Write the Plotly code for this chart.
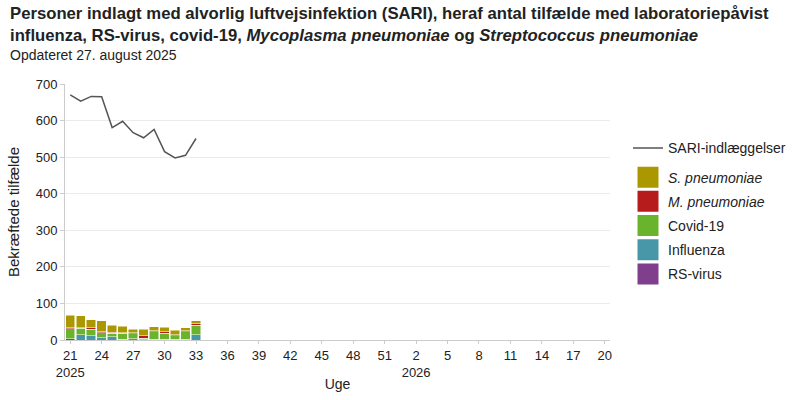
import plotly.graph_objects as go

# uger: 2025-U21 .. 2026-U20
weeks = [f"2025-U{w}" for w in range(21, 53)] + [f"2026-U{w}" for w in range(1, 21)]

# data for de uger der er rapporteret (2025-U21 .. 2025-U33)
data_weeks = weeks[:13]
sari = [670, 653, 666, 665, 581, 598, 567, 553, 576, 515, 498, 505, 551]
rs_virus = [3, 0, 0, 0, 0, 0, 0, 0, 0, 0, 0, 0, 0]
influenza = [1, 15, 12, 6, 9, 2, 3, 1, 2, 2, 2, 2, 14]
covid = [27, 17, 18, 14, 9, 17, 14, 4, 20, 17, 10, 20, 27]
m_pneu = [3, 1, 4, 3, 3, 1, 3, 7, 3, 3, 3, 3, 4]
s_pneu = [34, 33, 21, 29, 20, 18, 10, 18, 11, 13, 12, 8, 7]

tick_weeks = weeks[::3]
tick_text = []
for w in tick_weeks:
    year, uge = w.split("-U")
    if w in ("2025-U21", "2026-U2"):
        tick_text.append(f"{uge}<br>{year}")
    else:
        tick_text.append(uge)

fig = go.Figure()

fig.add_trace(go.Scatter(x=data_weeks, y=sari, mode="lines", name="SARI-indlæggelser",
                         line=dict(color="#555555", width=1.5), legend="legend2"))

bars = [
    ("RS-virus", rs_virus, "#7f3f8c", 6),
    ("Influenza", influenza, "#4897a8", 5),
    ("Covid-19", covid, "#6ab42d", 4),
    ("<i>M. pneumoniae</i>", m_pneu, "#b71c1c", 3),
    ("<i>S. pneumoniae</i>", s_pneu, "#ab9800", 2),
]
for name, vals, col, rank in bars:
    fig.add_trace(go.Bar(x=data_weeks, y=vals, name=name, marker_color=col,
                         marker_line=dict(color="white", width=0.5), showlegend=False))
    # legend proxy with a larger square swatch
    fig.add_trace(go.Scatter(x=[None], y=[None], mode="markers", name=name, legendrank=rank,
                             legendgroup=f"g{rank}",
                             marker=dict(symbol="square", size=16, color=col,
                                         line=dict(color=col, width=5))))

fig.update_layout(
    width=800, height=400,
    barmode="stack", bargap=0.1,
    plot_bgcolor="white", paper_bgcolor="white",
    font=dict(family="Liberation Sans, Arial, sans-serif", size=13, color="#222"),
    margin=dict(l=65, r=190, t=84, b=60),
    annotations=[
        dict(text="<b>Personer indlagt med alvorlig luftvejsinfektion (SARI), heraf antal tilfælde med laboratoriepåvist<br>"
                  "influenza, RS-virus, covid-19, <i>Mycoplasma pneumoniae</i> og <i>Streptococcus pneumoniae</i></b>",
             xref="paper", yref="paper", x=-0.105, y=1.32, xanchor="left", yanchor="top",
             align="left", showarrow=False, font=dict(size=16.7, color="#222")),
        dict(text="Opdateret 27. august 2025", xref="paper", yref="paper",
             x=-0.105, y=1.075, xanchor="left", yanchor="bottom", showarrow=False,
             font=dict(size=14, color="#222")),
    ],
    legend=dict(xref="container", x=0.785, xanchor="left", y=0.697, yanchor="top",
                font=dict(size=14), bgcolor="rgba(0,0,0,0)", tracegroupgap=3,
                traceorder="grouped"),
    legend2=dict(xref="container", x=0.785, xanchor="left", y=0.811, yanchor="top",
                 font=dict(size=14), bgcolor="rgba(0,0,0,0)"),
    xaxis=dict(type="category", categoryarray=weeks, categoryorder="array",
               range=[-0.5, len(weeks) - 0.5], automargin=False,
               tickvals=tick_weeks, ticktext=tick_text, tickangle=0, tickfont=dict(size=13),
               showline=True, linecolor="#cccccc", ticks="outside", tickcolor="#cccccc", ticklen=3,
               title=dict(text="Uge", font=dict(size=14), standoff=0), showgrid=False),
    yaxis=dict(range=[0, 700], dtick=100, showgrid=True, gridcolor="#ebebeb", automargin=False,
               tickfont=dict(size=13),
               showline=True, linecolor="#cccccc", ticks="outside", tickcolor="#cccccc", ticklen=4,
               title=dict(text="Bekræftede tilfælde", font=dict(size=15), standoff=12), zeroline=False),
)

fig.write_html("out.html", config={"displayModeBar": False},
               post_script="document.body.style.margin='0px';")
